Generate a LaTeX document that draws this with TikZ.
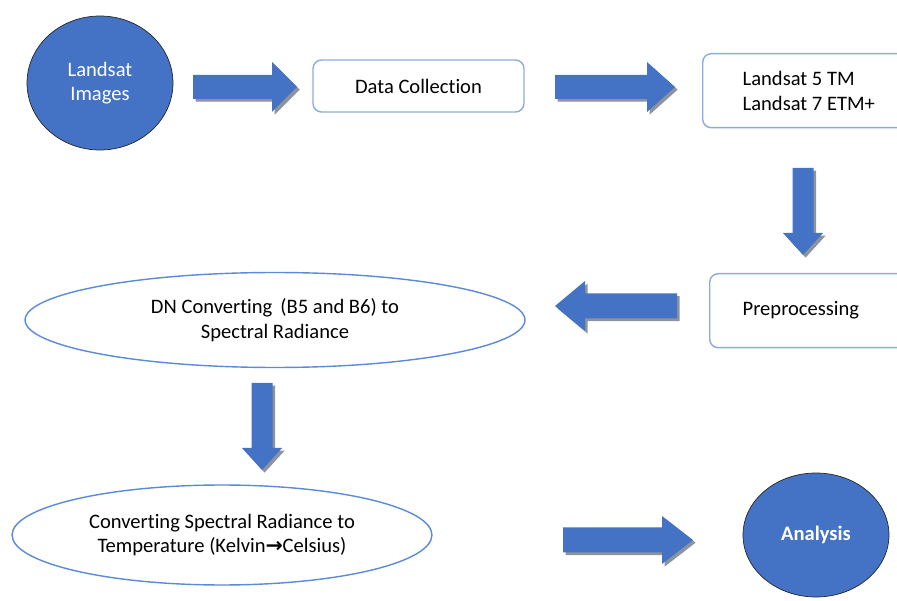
\documentclass[tikz,border=0pt]{standalone}
\usepackage{fontspec}
\setmainfont{Carlito}[Ligatures=NoCommon]
\newfontfamily\arrowfont{DejaVu Sans}
\usetikzlibrary{shapes.geometric}

\definecolor{fillblue}{HTML}{4472C4}
\definecolor{shadegray}{HTML}{8E949C}
\definecolor{boxline}{HTML}{8FAADC}
\definecolor{ovalline}{HTML}{5B8AD6}

% start, angle, length, head length, shaft half width, head half width
\newcommand{\blockarrow}[6]{%
    \fill[shadegray,shift={#1},xshift=1.5pt,yshift=-1.5pt,rotate=#2]
        (0,-#5) -- (#3-#4,-#5) -- (#3-#4,-#6) -- (#3,0) -- (#3-#4,#6) -- (#3-#4,#5) -- (0,#5) -- cycle;
    \fill[fillblue,shift={#1},rotate=#2]
        (0,-#5) -- (#3-#4,-#5) -- (#3-#4,-#6) -- (#3,0) -- (#3-#4,#6) -- (#3-#4,#5) -- (0,#5) -- cycle;
}

\begin{document}
\begin{tikzpicture}[x=0.02cm,y=-0.02cm,
        font=\fontsize{11.7}{14}\selectfont,
        bubble/.style={ellipse,draw=black!85,fill=fillblue,text=white,align=center,inner sep=0pt},
        flowbox/.style={rectangle,rounded corners=0.17cm,draw=boxline,line width=0.8pt,align=flush left},
        oval/.style={ellipse,draw=ovalline,line width=0.8pt,align=center,inner sep=0pt}]
        \useasboundingbox (0,0) rectangle (897,601);
        \clip (0,0) rectangle (897,601);

        \node[bubble,minimum width=2.92cm,minimum height=2.68cm] (landsat) at (100,83) {Landsat\\Images};
        \node[flowbox,minimum width=4.22cm,minimum height=1.04cm,align=center] (datacol) at (418.5,86) {Data Collection};
        \node[flowbox,anchor=north west,minimum width=4.4cm,minimum height=1.48cm,inner xsep=0.8cm,text width=2.8cm] (sensors) at (702,53) {Landsat 5 TM\\Landsat 7 ETM+};
        \node[flowbox,anchor=north west,minimum width=4.4cm,minimum height=1.48cm,inner xsep=0.66cm,text width=3.08cm] (preproc) at (709,273) {Preprocessing};
        \node[oval,minimum width=10cm,minimum height=1.9cm] (dnconv) at (275,320) {DN Converting\ \,(B5 and\ B6) to\\Spectral Radiance};
        \node[oval,minimum width=8.4cm,minimum height=2cm] (tempconv) at (222,535) {Converting Spectral Radiance to\\Temperature (Kelvin{\arrowfont\bfseries →}Celsius)};
        \node[bubble,minimum width=2.92cm,minimum height=2.48cm,font=\fontsize{11.7}{14}\selectfont\bfseries] (analysis) at (816,535) {Analysis};

        \blockarrow{(193,87)}{0}{104}{25}{12}{25}
        \blockarrow{(555,87)}{0}{120}{28}{12}{25}
        \blockarrow{(803,168)}{-90}{87}{22}{10.5}{20}
        \blockarrow{(677,306)}{180}{122}{30}{12.5}{25}
        \blockarrow{(262,383)}{-90}{87}{22}{10.5}{20}
        \blockarrow{(563,540)}{0}{130}{31}{12.5}{24}

    \end{tikzpicture}
\end{document}
